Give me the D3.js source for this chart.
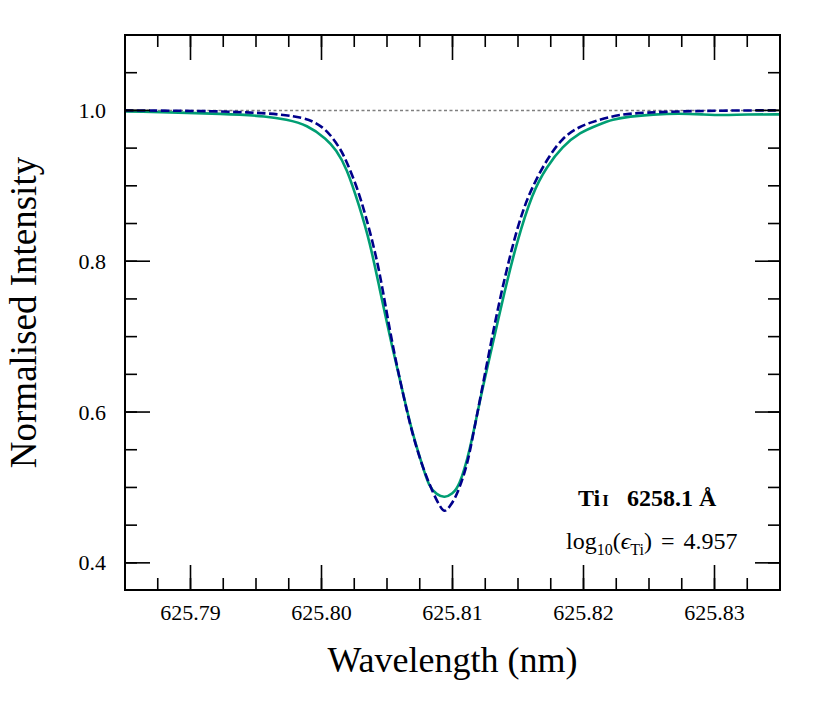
<!DOCTYPE html>
<html>
<head>
<meta charset="utf-8">
<script src="https://cdn.jsdelivr.net/npm/d3@7"></script>
<style>
  html, body { margin: 0; padding: 0; background: #fff; }
  text { font-family: "Liberation Serif", "Times New Roman", serif; fill: #000; }
</style>
</head>
<body>
<svg id="chart" width="830" height="712"></svg>
<script>
// ---- data ----
const modelWavelength = [625.7850, 625.7907, 625.7945, 625.7970, 625.7986, 625.7993, 625.8001, 625.8006, 625.8014, 625.8019,
  625.8027, 625.8034, 625.8042, 625.8047, 625.8054, 625.8062, 625.8069, 625.8077, 625.8085, 625.8090,
  625.8094, 625.8098, 625.8103, 625.8111, 625.8115, 625.8121, 625.8128, 625.8136, 625.8145, 625.8153,
  625.8161, 625.8172, 625.8184, 625.8197, 625.8210, 625.8227, 625.8248, 625.8273, 625.8311, 625.8350];
const modelIntensity = [1.000, 0.9995, 0.9975, 0.9947, 0.990, 0.986, 0.9775, 0.969, 0.9505, 0.933,
  0.899, 0.8593, 0.805, 0.760, 0.690, 0.6258, 0.5727, 0.5276, 0.4931, 0.476,
  0.466, 0.475, 0.4878, 0.5276, 0.5634, 0.6165, 0.680, 0.7492, 0.8155, 0.8646,
  0.8991, 0.935, 0.9642, 0.9788, 0.9867, 0.9947, 0.9973, 0.9987, 1.000, 1.000];

const obsWavelength = [625.7850, 625.7932, 625.7958, 625.7973, 625.7989, 625.8004, 625.8011, 625.8019, 625.8029, 625.8037,
  625.8044, 625.8054, 625.8062, 625.8069, 625.8077, 625.8082, 625.8088, 625.8094, 625.8100, 625.8105,
  625.8113, 625.8121, 625.8128, 625.8140, 625.8149, 625.8161, 625.8172, 625.8184, 625.8197, 625.8212,
  625.8222, 625.8235, 625.8253, 625.8273, 625.8291, 625.8306, 625.8324, 625.8350];
const obsIntensity = [0.9987, 0.9955, 0.992, 0.988, 0.981, 0.962, 0.948, 0.925, 0.8726, 0.8248,
  0.7664, 0.6855, 0.627, 0.574, 0.529, 0.501, 0.4904, 0.486, 0.4918, 0.501,
  0.5462, 0.6165, 0.670, 0.762, 0.8248, 0.8912, 0.9257, 0.9522, 0.9708, 0.9814,
  0.988, 0.992, 0.9947, 0.996, 0.9947, 0.9934, 0.9947, 0.9947];

const xTickValues = [625.79, 625.80, 625.81, 625.82, 625.83];
const xTickLabels = ["625.79", "625.80", "625.81", "625.82", "625.83"];
const yTickValues = [0.4, 0.6, 0.8, 1.0];
const yTickLabels = ["0.4", "0.6", "0.8", "1.0"];
const xDomain = [625.785, 625.835];
const yDomain = [0.364, 1.1];
const continuumLevel = 1.0;

// ---- layout ----
const svg = d3.select("#chart");
const L = 125, R = 780, T = 35, B = 590;
const x = d3.scaleLinear().domain(xDomain).range([L, R]);
const y = d3.scaleLinear().domain(yDomain).range([B, T]);

const majorLen = 25, minorLen = 12;
const xMinor = d3.range(0, 21).map(i => xDomain[0] + i * 0.0025);
const yMinor = d3.range(0, 15).map(i => 0.4 + i * 0.05).filter(v => v <= yDomain[1] + 1e-9);

svg.append("defs").append("clipPath").attr("id", "clip")
  .append("rect").attr("x", L).attr("y", T).attr("width", R - L).attr("height", B - T);

const plot = svg.append("g").attr("clip-path", "url(#clip)");

plot.append("line")
  .attr("x1", x(xDomain[0])).attr("x2", x(xDomain[1]))
  .attr("y1", y(continuumLevel)).attr("y2", y(continuumLevel))
  .attr("stroke", "#7f7f7f").attr("stroke-width", 1.5).attr("stroke-dasharray", "3,2.5");

const line = d3.line().x(d => x(d[0])).y(d => y(d[1])).curve(d3.curveBasis);

plot.append("path")
  .datum(obsWavelength.map((w, i) => [w, obsIntensity[i]]))
  .attr("d", line).attr("fill", "none")
  .attr("stroke", "#009e73").attr("stroke-width", 2.6);

plot.append("path")
  .datum(modelWavelength.map((w, i) => [w, modelIntensity[i]]))
  .attr("d", line).attr("fill", "none")
  .attr("stroke", "#00008b").attr("stroke-width", 2.6).attr("stroke-dasharray", "8.5,3.5");

const tg = svg.append("g").attr("stroke", "#000").attr("stroke-width", 1.6);
function xt(vals, len) {
  vals.forEach(v => {
    const px = x(v);
    tg.append("line").attr("x1", px).attr("x2", px).attr("y1", B).attr("y2", B - len);
    tg.append("line").attr("x1", px).attr("x2", px).attr("y1", T).attr("y2", T + len);
  });
}
function yt(vals, len) {
  vals.forEach(v => {
    const py = y(v);
    tg.append("line").attr("y1", py).attr("y2", py).attr("x1", L).attr("x2", L + len);
    tg.append("line").attr("y1", py).attr("y2", py).attr("x1", R).attr("x2", R - len);
  });
}
xt(xMinor, minorLen);
xt(xTickValues, majorLen);
yt(yMinor, minorLen);
yt(yTickValues, majorLen);

svg.append("rect").attr("x", L).attr("y", T).attr("width", R - L).attr("height", B - T)
  .attr("fill", "none").attr("stroke", "#000").attr("stroke-width", 2);

svg.append("g").selectAll("text").data(xTickValues).join("text")
  .attr("x", d => x(d)).attr("y", 620).attr("text-anchor", "middle")
  .attr("font-size", 22).text((d, i) => xTickLabels[i]);
svg.append("g").selectAll("text").data(yTickValues).join("text")
  .attr("x", 106).attr("y", d => y(d) + 7.5).attr("text-anchor", "end")
  .attr("font-size", 22).text((d, i) => yTickLabels[i]);

svg.append("text").attr("x", (L + R) / 2).attr("y", 672).attr("text-anchor", "middle")
  .attr("font-size", 36).text("Wavelength (nm)");
svg.append("text").attr("transform", "translate(36," + ((T + B) / 2) + ") rotate(-90)")
  .attr("text-anchor", "middle").attr("font-size", 37).text("Normalised Intensity");

const a1 = svg.append("text").attr("x", 578).attr("y", 506).attr("font-size", 24).attr("font-weight", "bold");
a1.append("tspan").text("Ti");
a1.append("tspan").attr("dx", 2).attr("font-size", 17).text("I");
a1.append("tspan").attr("dx", 18).text("6258.1 Å");

const a2 = svg.append("text").attr("x", 566).attr("y", 549).attr("font-size", 24);
a2.append("tspan").text("log");
a2.append("tspan").attr("font-size", 16).attr("dy", 6).text("10");
a2.append("tspan").attr("dy", -6).text("(");
a2.append("tspan").attr("font-style", "italic").text("ϵ");
a2.append("tspan").attr("font-size", 16).attr("dy", 6).text("Ti");
a2.append("tspan").attr("dy", -6).text(")");
a2.append("tspan").attr("dx", 9).text("=");
a2.append("tspan").attr("dx", 9).text("4.957");
</script>
</body>
</html>
